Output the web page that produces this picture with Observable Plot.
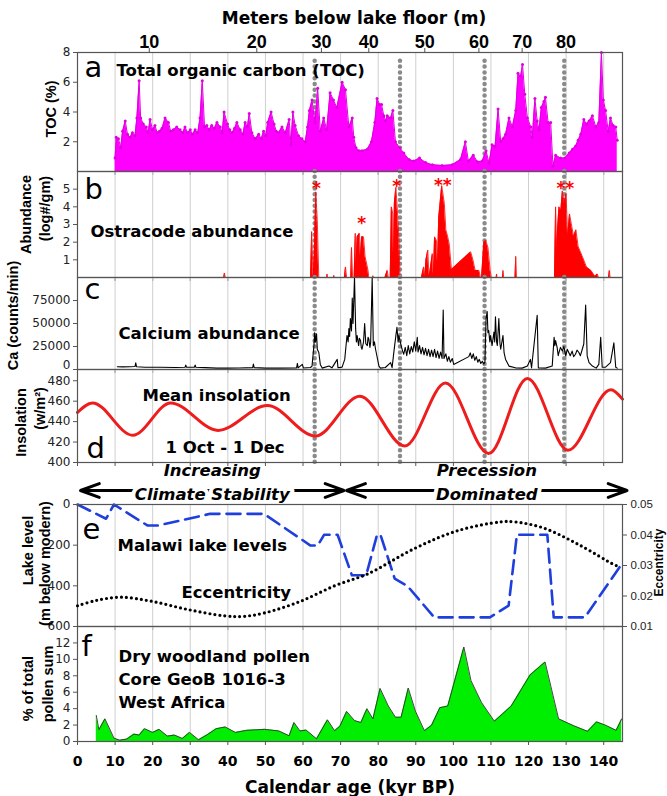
<!DOCTYPE html>
<html><head><meta charset="utf-8">
<script src="https://cdn.jsdelivr.net/npm/d3@7"></script>
<script src="https://cdn.jsdelivr.net/npm/@observablehq/plot@0.6"></script>
<style>
body{margin:0;background:#fff;}
#chart{position:relative;width:667px;height:796px;overflow:hidden;background:#fff;}
</style></head><body><div id="chart"></div>
<script>
// ---------------- data ----------------
const ageTicks = [0,10,20,30,40,50,60,70,80,90,100,110,120,130,140];
const meterTicks = [10,20,30,40,50,60,70,80];
const meterTickAges = [19.1,47.7,64.9,77.5,92.4,106.8,118.3,130.0];
const eventAges = [63.1,85.8,108.3,129.5];

const tocTicks = [2,4,6,8];
const ostTicks = [1,2,3,4,5];
const caTicks = [0,25000,50000,75000];
const insTicks = [400,420,440,460,480];
const lakeTicks = [0,200,400,600];
const eccTicks = [0.01,0.02,0.03,0.04,0.05];
const pollenTicks = [0,2,4,6,8,10,12];

// TOC (%) : [age kyr, value]
const toc = [[10.0,0.9],[10.3,2.3],[10.9,2.2],[11.5,1.6],[12.0,2.7],[12.7,3.4],[13.3,2.5],[14.0,2.3],[14.6,2.6],[15.3,2.4],[15.8,3.6],[16.4,6.1],[16.8,3.6],[17.5,3.2],[18.3,3.0],[18.8,2.6],[19.3,3.5],[20.0,2.8],[20.6,3.1],[21.2,2.6],[21.8,2.7],[22.5,2.9],[23.3,3.6],[24.2,3.3],[24.8,2.7],[25.5,2.8],[26.4,3.0],[27.3,2.8],[28.0,2.6],[28.6,3.0],[29.3,2.6],[30.0,2.8],[30.6,2.5],[31.3,2.8],[32.0,2.6],[32.6,3.6],[33.2,6.1],[33.8,3.0],[34.4,3.1],[35.0,2.8],[35.7,3.1],[36.4,2.9],[37.1,3.3],[38.0,3.0],[38.5,2.6],[39.0,4.0],[39.9,3.2],[40.5,2.8],[41.1,2.6],[41.8,2.9],[42.4,3.3],[43.3,2.8],[44.0,2.5],[44.6,3.3],[45.2,3.0],[45.7,3.9],[46.4,2.6],[47.3,2.2],[48.2,2.5],[48.9,2.2],[49.5,2.7],[50.1,2.4],[50.6,3.3],[51.5,4.0],[52.3,3.2],[52.9,2.7],[53.5,2.6],[54.4,3.0],[55.3,2.6],[56.3,3.5],[56.8,1.8],[57.3,4.0],[57.9,3.1],[58.8,2.4],[59.7,2.2],[60.6,2.0],[61.2,3.0],[61.7,4.1],[62.4,4.8],[63.2,3.3],[63.9,5.6],[64.6,2.7],[65.5,3.6],[66.3,2.8],[67.2,5.3],[68.1,4.8],[69.0,4.3],[70.4,6.0],[71.3,5.5],[72.2,3.0],[73.1,3.6],[73.5,2.3],[74.1,1.6],[74.9,1.4],[75.7,1.4],[77.1,1.5],[78.2,2.0],[79.1,3.3],[79.7,4.9],[80.4,4.5],[80.9,4.5],[81.5,3.75],[82.0,3.4],[82.4,3.75],[83.3,3.6],[83.9,4.1],[84.6,2.0],[85.7,1.6],[86.8,1.25],[88.2,0.8],[89.5,0.7],[91.0,0.9],[92.6,0.6],[94.4,0.45],[97.0,0.4],[99.7,0.45],[101.9,0.8],[103.2,2.0],[104.0,0.7],[105.3,1.1],[106.4,0.65],[107.7,0.7],[108.7,1.4],[109.5,0.55],[110.3,1.8],[111.1,1.7],[111.9,4.2],[112.6,2.0],[113.2,2.2],[113.9,2.5],[114.8,3.6],[115.7,3.0],[116.6,4.1],[117.2,6.6],[117.9,6.4],[118.4,7.2],[119.0,5.2],[119.7,3.6],[120.6,3.0],[121.0,2.3],[121.7,4.9],[122.3,3.4],[122.8,2.8],[123.4,4.3],[124.1,4.7],[124.5,5.0],[125.2,3.3],[125.9,3.3],[126.5,0.35],[127.2,1.1],[128.5,0.9],[129.7,0.9],[130.8,1.25],[131.7,1.5],[132.5,1.7],[133.2,2.1],[133.9,2.5],[134.7,3.5],[135.4,3.2],[136.1,3.4],[137.0,3.75],[137.9,3.0],[138.7,3.3],[139.4,8.0],[139.9,4.8],[140.5,4.1],[141.2,2.7],[141.8,3.6],[142.5,3.1],[143.2,3.0],[143.6,2.1]];

// Ostracode abundance (log#/gm)
const ost = [[10,0],[38.9,0],[39.1,0.25],[39.3,0],[62.0,0],[62.3,2.6],[62.7,0],[63.0,1.35],[63.4,4.85],[63.8,3.2],[64.2,0],[66.3,0],[66.4,0.2],[66.5,0],[68.1,0],[68.2,0.12],[68.3,0],[71.0,0],[71.3,0.6],[71.6,0],[72.7,0],[72.9,1.7],[73.2,0],[73.6,0],[73.9,2.5],[74.1,0.8],[74.4,2.3],[75.0,2.5],[75.3,1.2],[75.6,2.3],[76.1,2.3],[76.5,1.2],[77.3,0.4],[77.5,0],[78.5,0],[78.6,0.1],[78.7,0],[81.8,0],[82.4,0.4],[82.7,0],[83.2,0],[83.5,4.0],[83.9,3.6],[84.1,1.0],[84.3,4.2],[84.7,5.1],[85.0,4.2],[85.5,2.3],[85.8,0],[91.5,0],[92.1,0.6],[92.4,0],[92.7,1.0],[93.2,1.55],[93.5,0.1],[93.8,0.4],[94.4,1.35],[94.7,0.2],[95.0,2.3],[95.5,2.1],[95.8,0.8],[96.1,3.4],[96.9,5.2],[97.6,4.2],[98.0,2.7],[98.5,2.3],[98.9,1.9],[99.5,0.45],[104.6,1.45],[105.2,1.0],[105.8,0.4],[106.8,0.4],[107.2,0],[107.5,0],[108.1,2.0],[108.6,2.1],[109.2,1.7],[109.8,0.4],[110.1,0],[111.4,0],[111.5,0.2],[111.6,0],[113.1,0],[113.2,0.4],[113.4,0],[116.4,0],[116.6,1.2],[116.8,0],[126.9,0],[127.2,4.0],[127.5,1.5],[127.7,2.7],[128.1,4.0],[128.6,3.8],[129.0,4.9],[129.5,4.2],[130.0,4.75],[130.4,2.3],[130.9,3.6],[131.5,2.9],[132.0,2.3],[132.6,2.7],[133.2,1.75],[134.3,1.2],[135.4,0.6],[136.6,0.4],[137.7,0.05],[138.3,0.2],[138.6,0],[141.3,0],[141.5,0.4],[141.7,0]];
const starAges = [63.6,75.6,84.9,97.2,129.8];
const starValues = [5.3,3.35,5.45,5.5,5.3];
const starLabels = ["*","*","*","**","**"];

// Calcium (counts/min)
const ca = [[10.6,3000],[12,2800],[14,3000],[15.3,3200],[15.5,7300],[15.7,3000],[18,2500],[22,2500],[26,2200],[28.6,2500],[28.8,4800],[29,2500],[31.1,2500],[31.3,4800],[31.5,2500],[34,2000],[37,1500],[40,1500],[43,1700],[46.6,2000],[46.8,5900],[47,2000],[50,1500],[54,1500],[58.3,1800],[58.5,6600],[58.7,1800],[59.8,5500],[60.1,1600],[62,2200],[62.4,3700],[62.9,26000],[63.1,40000],[63.3,30000],[63.6,38800],[63.8,22000],[64.2,18500],[64.6,5500],[65.1,1500],[66.9,3700],[67.7,1800],[69.1,11000],[69.3,1900],[70.4,2600],[71.1,11000],[71.7,37000],[72.0,30000],[72.2,44400],[72.4,36000],[72.6,55500],[72.9,42000],[73.1,77700],[73.3,50000],[73.7,100000],[74.0,44400],[74.2,30000],[74.4,37000],[74.8,26000],[75.0,34000],[75.3,31500],[75.5,24000],[75.7,22000],[76.1,30000],[76.4,50000],[76.7,28000],[77.1,26000],[77.3,35000],[77.5,33300],[77.8,24000],[78.0,29600],[78.4,100000],[78.7,26000],[79.0,30000],[79.3,22000],[80.2,3700],[80.6,1500],[81.9,2200],[83.3,7400],[83.7,2000],[84.2,20000],[84.6,33300],[85.0,46000],[85.3,30000],[85.5,37000],[86.1,26000],[86.5,20000],[86.8,16600],[87.2,24000],[87.6,15000],[88.0,26000],[88.4,17000],[88.8,25000],[89.2,19000],[89.6,30000],[90.0,20000],[90.4,35000],[90.6,19000],[91.0,26000],[91.4,17000],[91.8,24000],[92.2,16000],[92.6,23000],[93.0,15000],[93.4,22000],[93.8,14000],[94.2,21000],[94.6,14000],[95.0,22000],[95.4,13000],[95.8,20000],[96.2,12000],[96.6,19000],[97.0,12000],[97.3,64700],[97.5,12000],[98.0,17000],[98.4,9000],[98.8,14000],[99.2,8000],[99.7,12000],[100.1,5500],[104.1,14000],[104.5,18000],[104.9,12000],[105.3,17000],[105.7,10000],[106.1,14000],[106.5,8000],[106.9,11000],[107.3,6500],[107.7,9000],[108.1,6000],[108.4,8000],[108.7,55500],[109.0,63000],[109.2,40000],[109.4,42500],[109.7,30000],[109.9,37000],[110.3,26000],[110.8,40700],[111.0,30000],[111.2,57400],[111.5,30000],[111.7,26000],[112.1,55500],[112.4,28000],[112.6,22000],[113.2,37000],[113.5,18000],[113.9,11000],[114.8,3700],[116.5,1800],[118.3,1500],[119.7,3700],[120.5,11000],[120.8,1800],[122.3,59000],[122.6,1800],[124.5,1500],[126.3,3700],[126.8,35000],[127.0,26000],[127.2,31500],[127.6,24000],[127.9,15000],[128.1,18500],[128.5,24000],[129.0,20000],[129.4,25000],[129.9,14800],[130.3,22000],[130.7,18500],[131.1,15000],[131.6,20000],[132.0,14000],[132.5,16600],[132.9,21000],[133.4,18500],[133.8,15000],[134.3,22000],[134.7,27700],[135.2,70000],[135.6,14800],[136.1,7400],[137.0,3700],[138.0,1500],[138.7,5500],[139.2,35000],[139.6,2500],[140.5,2500],[141.8,7400],[142.7,29000],[143.2,2500],[143.6,1500]];

// Mean insolation 1 Oct - 1 Dec (W/m2)
const insAge = [0,4,14.7,24.8,37.4,50.5,63.3,75.1,87.1,97.9,109.4,119.7,130.5,141.9,145];
const insVal = [449,458.3,426.6,458.3,431.4,455.7,425.9,464.8,416.2,477.7,408.7,482.3,412,471.2,462];

// Malawi lake levels (m below modern)
const lakeAge = [0,7.6,9.7,18.6,21.5,35.3,49.6,62.0,63.9,65.6,69.2,73.0,76.8,79.7,80.6,84.4,87.8,94.9,109.7,114.7,116.9,125.0,126.7,135.0,144.6];
const lakeLevel = [0,70,0,103,103,46,46,202,202,149,149,348,348,149,149,365,401,555,555,497,149,149,555,555,298];

// Eccentricity
const eccAge = [0,4.8,11.5,20,29.6,39.1,43.9,49.6,59.2,68.7,77.3,89.7,101.1,112.6,116.4,124,133.6,143.1,144.6];
const eccVal = [0.0168,0.0185,0.0196,0.0182,0.0155,0.0135,0.0133,0.0144,0.0182,0.0235,0.0273,0.0356,0.0414,0.0443,0.0443,0.0423,0.0367,0.0301,0.0296];

// Dry woodland pollen (% of total pollen sum)
const pollenAge = [5.0,5.7,7.3,9.7,11.2,13.1,15.0,16.4,17.8,20.0,21.7,23.9,25.8,27.9,29.8,32.2,34.5,36.9,39.3,42.0,45.0,49.8,53.6,56.3,57.6,59.2,60.8,63.6,66.5,68.4,69.8,71.6,73.7,75.4,77.0,78.6,80.5,82.7,84.6,86.1,88.0,89.9,92.3,94.2,96.4,98.5,102.8,104.7,107.5,110.9,115.4,120.4,124.4,128.0,131.9,135.7,138.1,140.5,143.3,144.8];
const pollenVal = [3.17,1.44,2.76,0.41,0.16,0.29,0.9,0.78,1.56,1.11,1.48,0.66,0.78,0.37,1.11,0.21,0.82,1.56,1.77,1.11,1.36,1.48,1.28,0.7,2.31,1.28,1.4,0.33,2.64,1.32,1.85,3.66,2.55,2.31,3.99,2.76,6.46,4.32,2.96,2.96,6.5,3.7,1.32,1.98,4.12,4.32,11.5,7.4,4.74,2.47,4.32,8.1,9.68,2.76,1.94,1.24,2.39,1.98,1.36,2.76];

// Period annotations
const periodFrom = [0.8, 71.6];
const periodTo = [70.9, 146.2];
const periodTop = ["Increasing", "Precession"];
const periodBottom = ["Climate Stability", "Dominated"];

// ---------------- tables ----------------
const meterLabel = new Map(meterTickAges.map((a, i) => [a, String(meterTicks[i])]));
const stars = starAges.map((a, i) => ({a, v: starValues[i], t: starLabels[i]}));
const ins = insAge.map((a, i) => ({a, v: insVal[i]}));
const lake = lakeAge.map((a, i) => ({a, v: lakeLevel[i]}));
const ecc = eccAge.map((a, i) => ({a, v: eccVal[i]}));
const pollen = pollenAge.map((a, i) => ({a, v: pollenVal[i]}));
const periods = periodFrom.map((f, i) => ({from: f, to: periodTo[i], mid: (f + periodTo[i]) / 2, top: periodTop[i], bottom: periodBottom[i]}));

// ---------------- styling helpers ----------------
const DV = "'DejaVu Sans', sans-serif";
const LIB = "'Liberation Sans', Arial, sans-serif";
const chart = document.getElementById("chart");
const base = (h, mt, mb) => ({
  width: 667, height: h, marginLeft: 77, marginRight: 45, marginTop: mt, marginBottom: mb,
  x: {domain: [0, 145]},
  style: {fontFamily: DV, fontSize: "12px", color: "#222", background: "transparent", overflow: "visible"}
});
function place(svg, top) {
  svg.style.position = "absolute"; svg.style.left = "0px"; svg.style.top = top + "px";
  svg.style.overflow = "visible"; svg.style.background = "transparent";
  chart.appendChild(svg);
}
const grid = () => Plot.gridX(ageTicks, {stroke: "#cfcfcf", strokeOpacity: 1, strokeWidth: 1});
const frame = () => Plot.frame({stroke: "#555", strokeWidth: 1.2});
const bottomTicks = () => Plot.axisX(ageTicks, {anchor: "bottom", tickSize: 4, tickFormat: () => "", label: null, stroke: "#555"});
const leftAxis = (ticks, fmt, extra = {}) => Plot.axisY(ticks, {anchor: "left", tickSize: 4, tickPadding: 3, tickFormat: fmt || (d => String(d)), label: null, fontSize: 12, fontFamily: DV, fill: "#222", stroke: "#555", ...extra});
const evStyle = {stroke: "#8a8a8a", strokeWidth: 4.5, strokeDasharray: "0 5.8", strokeLinecap: "round"};
const label = (txt, dx, dy, extra = {}) => Plot.text([txt], {text: d => d, frameAnchor: "top-left", textAnchor: "start", lineAnchor: "bottom", dx, dy, fontFamily: DV, fontWeight: "bold", fontSize: 16.5, fill: "#000", ...extra});
const letter = (txt, dx, dy) => Plot.text([txt], {text: d => d, frameAnchor: "top-left", textAnchor: "start", lineAnchor: "bottom", dx, dy, fontFamily: DV, fontSize: 29, fill: "#000"});
const ylab = (txt, dx, dy, anchor = "left", size = 14.5) => Plot.text([txt], {text: d => d, frameAnchor: anchor, rotate: -90, textAnchor: "middle", lineAnchor: "middle", dx, dy, fontFamily: LIB, fontWeight: "bold", fontSize: size, fill: "#000"});

// ---------------- panel a : TOC ----------------
place(Plot.plot({
  ...base(171, 52, 0),
  y: {domain: [0, 8]},
  marks: [
    grid(),
    Plot.ruleX(eventAges, {x: d => d, y1: 0, y2: 7.6, ...evStyle}),
    Plot.areaY(toc, {x: d => d[0], y: d => d[1], fill: "#ff00ff"}),
    Plot.line(toc, {x: d => d[0], y: d => d[1], stroke: "#e000e0", strokeWidth: 1}),
    Plot.dot(toc, {x: d => d[0], y: d => d[1], r: 1.5, fill: "#e000e0", stroke: null}),
    frame(),
    leftAxis(tocTicks),
    Plot.axisX(meterTickAges, {anchor: "top", tickSize: 5, tickPadding: 0, tickFormat: d => meterLabel.get(d), label: null, fontSize: 18, fontWeight: "bold", fontFamily: "'Liberation Sans Narrow', 'Liberation Sans', sans-serif", fill: "#000", stroke: "#555"}),
    bottomTicks(),
    Plot.text(["Meters below lake floor (m)"], {text: d => d, frameAnchor: "top", lineAnchor: "bottom", dx: 4, dy: -29, fontFamily: DV, fontWeight: "bold", fontSize: 17, fill: "#000"}),
    letter("a", 7, 24),
    label("Total organic carbon (TOC)", 39, 23),
    ylab("TOC (%)", -26, -3)
  ]
}), 0);

// ---------------- panel b : Ostracodes ----------------
place(Plot.plot({
  ...base(106, 0, 0),
  y: {domain: [0, 6]},
  marks: [
    grid(),
    Plot.ruleX(eventAges, {x: d => d, ...evStyle}),
    Plot.areaY(ost, {x: d => d[0], y: d => d[1], fill: "#ff0000"}),
    Plot.line(ost, {x: d => d[0], y: d => d[1], stroke: "#ff0000", strokeWidth: 0.8}),
    Plot.text(stars, {x: "a", y: "v", text: "t", fill: "#ff0000", fontFamily: DV, fontWeight: "bold", fontSize: 17, lineAnchor: "middle", dy: 5}),
    frame(),
    leftAxis(ostTicks),
    bottomTicks(),
    letter("b", 7, 27),
    label("Ostracode abundance", 13, 65),
    ylab("Abundance", -51, -10),
    ylab("(log#/gm)", -32, -16)
  ]
}), 171);

// ---------------- panel c : Calcium ----------------
place(Plot.plot({
  ...base(92, 0, 0),
  y: {domain: [0, 100000]},
  marks: [
    grid(),
    Plot.ruleX(eventAges, {x: d => d, ...evStyle}),
    Plot.line(ca, {x: d => d[0], y: d => d[1], stroke: "#000", strokeWidth: 1.1, clip: true}),
    frame(),
    leftAxis(caTicks, d => (d === 0 ? "" : String(d))),
    leftAxis(caTicks.filter(d => d === 0), null, {tickSize: 0, tickPadding: 7, dy: -4}),
    bottomTicks(),
    letter("c", 7, 21),
    label("Calcium abundance", 41, 61),
    ylab("Ca (counts/min)", -64, -8)
  ]
}), 277);

// ---------------- panel d : Insolation ----------------
place(Plot.plot({
  ...base(93, 0, 0),
  y: {domain: [400, 491]},
  marks: [
    grid(),
    Plot.ruleX(eventAges, {x: d => d, ...evStyle}),
    Plot.line(ins, {x: "a", y: "v", stroke: "#ee1c1c", strokeWidth: 3, curve: "monotone-x"}),
    frame(),
    leftAxis(insTicks),
    bottomTicks(),
    label("Mean insolation", 65, 31),
    label("1 Oct - 1 Dec", 88, 83),
    letter("d", 9, 88),
    ylab("Insolation", -56, 6.5),
    ylab("(w/m²)", -37, -7.5)
  ]
}), 369);

// ---------------- period arrows ----------------
const ital = {fontFamily: DV, fontWeight: "bold", fontStyle: "italic", fontSize: 16.5, fill: "#000"};
place(Plot.plot({
  ...base(42, 14, 0),
  x: {domain: [0, 145], axis: null},
  y: {domain: [0, 1], axis: null},
  marks: [
    Plot.arrow(periods, {x1: "mid", x2: "from", y1: 0.5, y2: 0.5, stroke: "#000", strokeWidth: 3, headLength: 10, headAngle: 40}),
    Plot.arrow(periods, {x1: "mid", x2: "to", y1: 0.5, y2: 0.5, stroke: "#000", strokeWidth: 3, headLength: 10, headAngle: 40}),
    Plot.text(periods, {x: "mid", y: 1, text: "top", lineAnchor: "bottom", dy: -1, ...ital}),
    Plot.text(periods, {x: "mid", y: 0.5, text: "bottom", lineAnchor: "middle", dy: 4, stroke: "#fff", strokeWidth: 8, ...ital})
  ]
}), 462);

// ---------------- panel e : lake levels ----------------
place(Plot.plot({
  ...base(122, 0, 0),
  y: {domain: [0, 600], reverse: true},
  marks: [
    grid(),
    Plot.line(lake, {x: "a", y: "v", stroke: "#1f3fdd", strokeWidth: 2.6, strokeDasharray: "14 7"}),
    frame(),
    leftAxis(lakeTicks),
    bottomTicks(),
    letter("e", 5, 34),
    label("Malawi lake levels", 40, 46),
    label("Eccentricity", 104, 93),
    ylab("Lake level", -49, -15),
    ylab("(m below modern)", -32, -2)
  ]
}), 504);

// ---------------- panel e overlay : eccentricity ----------------
place(Plot.plot({
  ...base(122, 0, 0),
  x: {domain: [0, 145], axis: null},
  y: {domain: [0.01, 0.05]},
  marks: [
    Plot.line(ecc, {x: "a", y: "v", stroke: "#000", strokeWidth: 3.2, strokeDasharray: "0 5", strokeLinecap: "round", curve: "catmull-rom"}),
    Plot.axisY(eccTicks, {anchor: "right", tickSize: 4, tickPadding: 4, tickFormat: d3.format(".2f"), label: null, fontSize: 11.5, fontFamily: LIB, fill: "#222", stroke: "#555"}),
    ylab("Eccentricity", 37, -3, "right", 12)
  ]
}), 504);

// ---------------- panel f : pollen ----------------
place(Plot.plot({
  ...base(170, 0, 55),
  y: {domain: [0, 14]},
  marks: [
    grid(),
    Plot.areaY(pollen, {x: "a", y: "v", fill: "#00ee00"}),
    Plot.line(pollen, {x: "a", y: "v", stroke: "#333", strokeWidth: 0.9}),
    frame(),
    leftAxis(pollenTicks),
    Plot.axisX(ageTicks, {anchor: "bottom", tickSize: 4, tickPadding: 11, label: null, fontSize: 14, fontWeight: "bold", fontFamily: DV, fill: "#000", stroke: "#555"}),
    Plot.text(["Calendar age (kyr BP)"], {text: d => d, frameAnchor: "bottom", lineAnchor: "bottom", dy: 51, fontFamily: DV, fontWeight: "bold", fontSize: 17, fill: "#000"}),
    letter("f", 4, 29),
    Plot.text(["Dry woodland pollen\nCore GeoB 1016-3\nWest Africa"], {text: d => d, frameAnchor: "top-left", textAnchor: "start", lineAnchor: "top", dx: 41, dy: 19, lineHeight: 1.4, fontFamily: DV, fontWeight: "bold", fontSize: 16.5, fill: "#000"}),
    ylab("% of total", -49, 4.5),
    ylab("pollen sum", -29, 0)
  ]
}), 626);
</script></body></html>
